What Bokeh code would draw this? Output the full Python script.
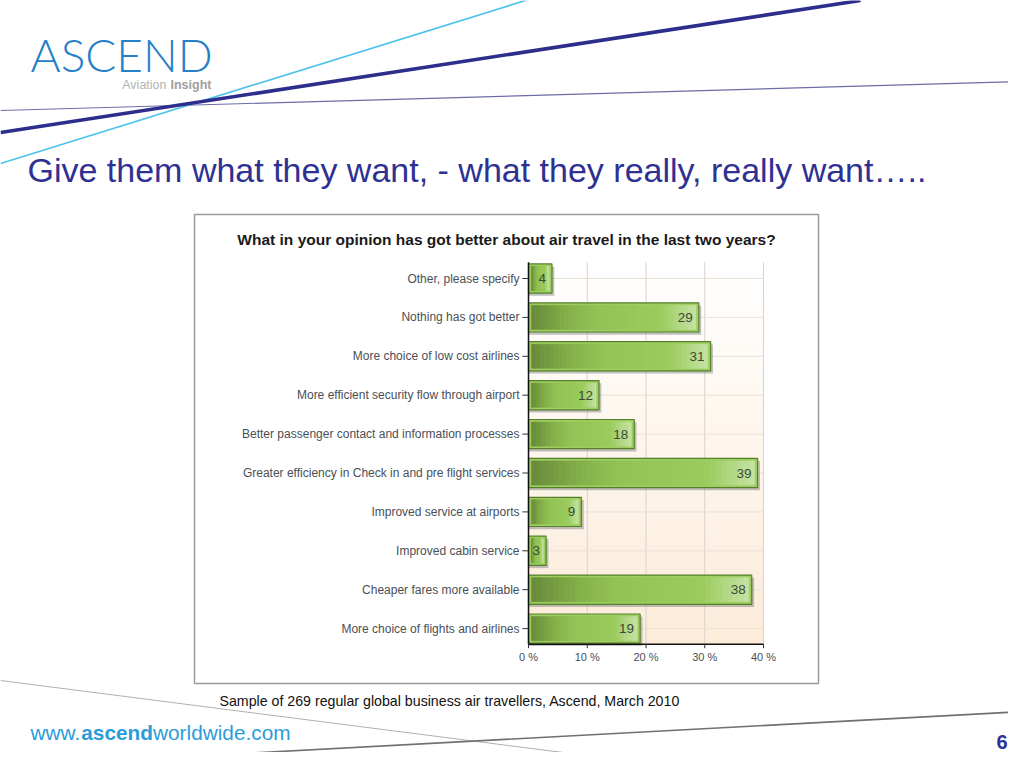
from bokeh.plotting import figure
from bokeh.models import Range1d
from bokeh.core.properties import value
from bokeh.embed import file_html
from bokeh.resources import INLINE

# ---------------- data ----------------
categories = [
    "Other, please specify",
    "Nothing has got better",
    "More choice of low cost airlines",
    "More efficient security flow through airport",
    "Better passenger contact and information processes",
    "Greater efficiency in Check in and pre flight services",
    "Improved service at airports",
    "Improved cabin service",
    "Cheaper fares more available",
    "More choice of flights and airlines",
]
values = [4, 29, 31, 12, 18, 39, 9, 3, 38, 19]
x_ticks = [0, 10, 20, 30, 40]
x_tick_labels = ["0 %", "10 %", "20 %", "30 %", "40 %"]

chart_title = "What in your opinion has got better about air travel in the last two years?"
slide_title = "Give them what they want, - what they really, really want….."
caption = "Sample of 269 regular global business air travellers, Ascend, March 2010"

# ---------------- layout ----------------
W, H = 1008, 752
PX0, PY0 = 0, 0                      # picture offset of the canvas
AX_X0 = 528.0                        # pixel of 0 %
PX_PER_PCT = 5.875
ROW0 = 278.0                         # pixel of first category
ROW_PX = 38.9
Y_TOP, Y_BOT = -0.42, 9.4            # plot area in category units
BASE_FIX = 0.4                       # baseline correction (fraction of font size)

FONT = value("Liberation Sans")

p = figure(width=W, height=H,
           x_range=Range1d(PX0, PX0 + W), y_range=Range1d(PY0 + H, PY0),
           x_axis_type=None, y_axis_type=None, min_border=0,
           toolbar_location=None, output_backend="svg",
           outline_line_color=None, background_fill_color="white",
           border_fill_color="white")
p.grid.visible = False
p.extra_x_ranges = {"pct": Range1d((PX0 - AX_X0) / PX_PER_PCT, (PX0 + W - AX_X0) / PX_PER_PCT)}
p.extra_y_ranges = {"cat": Range1d((PY0 + H - ROW0) / ROW_PX, (PY0 - ROW0) / ROW_PX)}


def hexrgb(h):
    h = h.lstrip("#")
    return tuple(int(h[i:i + 2], 16) for i in (0, 2, 4))


def grad(stops, t):
    for (t0, c0), (t1, c1) in zip(stops[:-1], stops[1:]):
        if t <= t1:
            f = 0 if t1 == t0 else (t - t0) / (t1 - t0)
            a, b = hexrgb(c0), hexrgb(c1)
            return "#%02x%02x%02x" % tuple(int(round(a[k] + (b[k] - a[k]) * f)) for k in range(3))
    return stops[-1][1]


def txt(x, y, s, size, color, align="left", bold=False, font=FONT):
    p.text(x=[x], y=[y - BASE_FIX * size], text=[s], text_font=font,
           text_font_size="%gpx" % size, text_color=color, text_align=align,
           text_baseline="alphabetic", text_font_style="bold" if bold else "normal")


# ---------------- slide decoration ----------------
p.line([0, 1024], [110, 81], line_color="#6c6ca8", line_width=1.2)
p.line([0, 525], [163, 0], line_color="#4cc3ea", line_width=1.6)
p.line([0, 860], [132, 0], line_color="#2d2d8c", line_width=3.6)
p.line([0, 680], [680, 767], line_color="#b0b0b0", line_width=1.1)
p.line([0, 1024], [766, 711], line_color="#707070", line_width=1.6)

txt(30, 72, "ASCEND", 46, "#2580c8", font=value("'Lato Light', Lato, sans-serif"))
txt(166, 89, "Aviation", 12.5, "#b3b3b3", align="right")
txt(170, 89, "Insight", 12.5, "#a0a0a0", bold=True)

txt(27, 183, slide_title, 34, "#2e3192")

txt(30, 740, "www.", 20.8, "#2b9cd8")
txt(80.8, 740, "ascend", 20.8, "#2b9cd8", bold=True)
txt(152.5, 740, "worldwide.com", 20.8, "#2b9cd8")
txt(1007, 749, "6", 20, "#2e3192", align="right", bold=True)

txt(219, 706, caption, 14.2, "#111111")

# ---------------- chart box ----------------
p.quad(left=[194], right=[818], top=[214], bottom=[683], fill_color="white",
       line_color="#9a9a9a", line_width=1.5)
txt(506, 245, chart_title, 15.5, "#1a1a1a", align="center", bold=True)

# plot background gradient (white -> peach)
nb = 50
bg_top = [Y_TOP + (Y_BOT - Y_TOP) * i / nb for i in range(nb)]
bg_bot = [Y_TOP + (Y_BOT - Y_TOP) * (i + 1) / nb for i in range(nb)]
bg_col = [grad([(0, "#ffffff"), (1, "#fcebd8")], (i + 0.5) / nb) for i in range(nb)]
p.quad(left=0, right=x_ticks[-1], top=bg_top, bottom=bg_bot, fill_color=bg_col,
       line_color=None, x_range_name="pct", y_range_name="cat")

idx = list(range(len(categories)))

# grid lines
p.segment(x0=x_ticks[1:], x1=x_ticks[1:], y0=Y_TOP, y1=Y_BOT, line_color="#d8d2cc",
          line_width=1, x_range_name="pct", y_range_name="cat")
p.segment(x0=0, x1=x_ticks[-1], y0=idx, y1=idx, line_color="#e9e1d8",
          line_width=1, x_range_name="pct", y_range_name="cat")

# bar shadows
p.hbar(y=[i + 0.07 for i in idx], left=0, right=[v + 0.4 for v in values], height=0.75,
       fill_color="#7a7a7a", fill_alpha=0.45, line_color=None,
       x_range_name="pct", y_range_name="cat")

# bar body (light rim + dark outline)
p.hbar(y=idx, left=0, right=values, height=0.75, fill_color="#9fce60",
       line_color="#55802b", line_width=1.2, x_range_name="pct", y_range_name="cat")

# gradient inside each bar
stops = [(0.0, "#68893a"), (0.22, "#84b04a"), (0.4, "#93c357"), (0.78, "#9acb5c"),
         (0.92, "#b7da8c"), (1.0, "#c6e2a4")]
K = 40
gy, gl, gr, gc = [], [], [], []
inset = 0.5
for i, v in zip(idx, values):
    span = max(v - 2 * inset, 0.1)
    for j in range(K):
        gy.append(i)
        gl.append(inset + span * j / K)
        gr.append(inset + span * (j + 1) / K)
        gc.append(grad(stops, (j + 0.5) / K))
p.hbar(y=gy, left=gl, right=gr, height=0.62, fill_color=gc, line_color=gc, line_width=0.5,
       x_range_name="pct", y_range_name="cat")

# value labels
p.text(x=values, y=idx, text=[str(v) for v in values], x_offset=-6, text_align="right",
       text_baseline="middle", text_font=FONT, text_font_size="13.5px", text_color="#3c4a34",
       x_range_name="pct", y_range_name="cat")

# axes
p.segment(x0=[0], x1=[0], y0=[Y_TOP], y1=[Y_BOT], line_color="#111111", line_width=1.5,
          x_range_name="pct", y_range_name="cat")
p.segment(x0=[0], x1=[x_ticks[-1]], y0=[Y_BOT], y1=[Y_BOT], line_color="#111111", line_width=1.5,
          x_range_name="pct", y_range_name="cat")
p.segment(x0=-1.05, x1=0, y0=idx, y1=idx, line_color="#333333", line_width=1,
          x_range_name="pct", y_range_name="cat")
y_axis_px = ROW0 + Y_BOT * ROW_PX
p.segment(x0=x_ticks, x1=x_ticks, y0=y_axis_px, y1=y_axis_px + 4, line_color="#333333",
          line_width=1, x_range_name="pct")

# category labels
p.text(x=AX_X0 - 9, y=idx, text=categories, text_align="right", text_baseline="middle",
       text_font=FONT, text_font_size="12px", text_color="#4a4f57", y_range_name="cat")

# x tick labels
p.text(x=x_ticks, y=y_axis_px + 13, text=x_tick_labels, text_align="center",
       text_baseline="middle", text_font=FONT, text_font_size="11px",
       text_color="#4a4f57", x_range_name="pct")

open("out.html", "w").write(file_html(p, INLINE))
